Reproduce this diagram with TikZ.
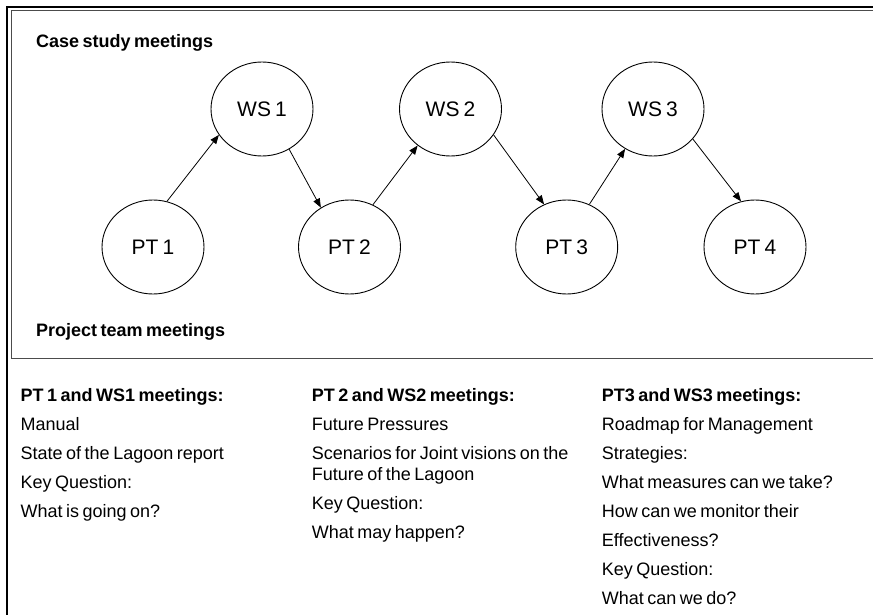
\documentclass[tikz,border=0pt]{standalone}
\usepackage{fontspec}
\setmainfont{Liberation Sans}[WordSpace=0.7]
\usetikzlibrary{shapes.geometric,arrows.meta}
\newcommand{\tightws}{\spaceskip=3.5pt plus 1pt minus 0.5pt\xspaceskip=3.5pt}
\begin{document}
\begin{tikzpicture}[x=1pt,y=-1pt,
  meet/.style={draw, ellipse, minimum width=102pt, minimum height=94pt, inner sep=0pt, line width=0.9pt, font=\fontsize{21}{24}\selectfont},
  conn/.style={-{Triangle[length=9pt,width=7pt]}, line width=0.8pt},
  head/.style={anchor=base west, inner sep=0pt, font=\fontsize{18}{20.7}\selectfont\bfseries},
  col/.style={anchor=base west, inner sep=0pt, align=left, text width=270pt, font=\fontsize{18}{20.7}\selectfont}]
\useasboundingbox (0,0) rectangle (873,615);
\fill[white] (0,0) rectangle (873,615);
\draw[line width=2pt] (7,620) -- (7,7) -- (880,7);
\draw[black!70, line width=1pt] (880,358) -- (11,358) -- (11,11) -- (880,11);
\node[meet] (ws1) at (262,109) {WS 1};
\node[meet] (ws2) at (450.5,109) {WS 2};
\node[meet] (ws3) at (653,109) {WS 3};
\node[meet] (pt1) at (153,247) {PT 1};
\node[meet] (pt2) at (349.5,247) {PT 2};
\node[meet] (pt3) at (566.7,247) {PT 3};
\node[meet] (pt4) at (755,247) {PT 4};
\draw[conn] (pt1.73) -- (ws1.211);
\draw[conn] (ws1.304) -- (pt2.126);
\draw[conn] (pt2.61) -- (ws2.228);
\draw[conn] (ws2.329) -- (pt3.118);
\draw[conn] (pt3.62) -- (ws3.235);
\draw[conn] (ws3.323) -- (pt4.107);
\node[head] (cs) at (36,47.5) {Case study meetings};
\node[head] (ptm) at (36,336) {Project team meetings};
\node[col] (c1) at (20.5,401.7) {\tightws\textbf{PT 1 and WS1 meetings:}\\[8.2pt]
Manual\\[8.2pt]
State of the Lagoon report\\[8.2pt]
Key Question:\\[8.2pt]
What is going on?};
\node[col] (c2) at (311.7,401.7) {\tightws\textbf{PT 2 and WS2 meetings:}\\[8.2pt]
Future Pressures\\[8.2pt]
Scenarios for Joint visions on the\\
Future of the Lagoon\\[8.2pt]
Key Question:\\[8.2pt]
What may happen?};
\node[col] (c3) at (601.7,401.7) {\tightws\textbf{PT3 and WS3 meetings:}\\[8.2pt]
Roadmap for Management\\[8.2pt]
Strategies:\\[8.2pt]
What measures can we take?\\[8.2pt]
How can we monitor their\\[8.2pt]
Effectiveness?\\[8.2pt]
Key Question:\\[8.2pt]
What can we do?};
\end{tikzpicture}
\end{document}
